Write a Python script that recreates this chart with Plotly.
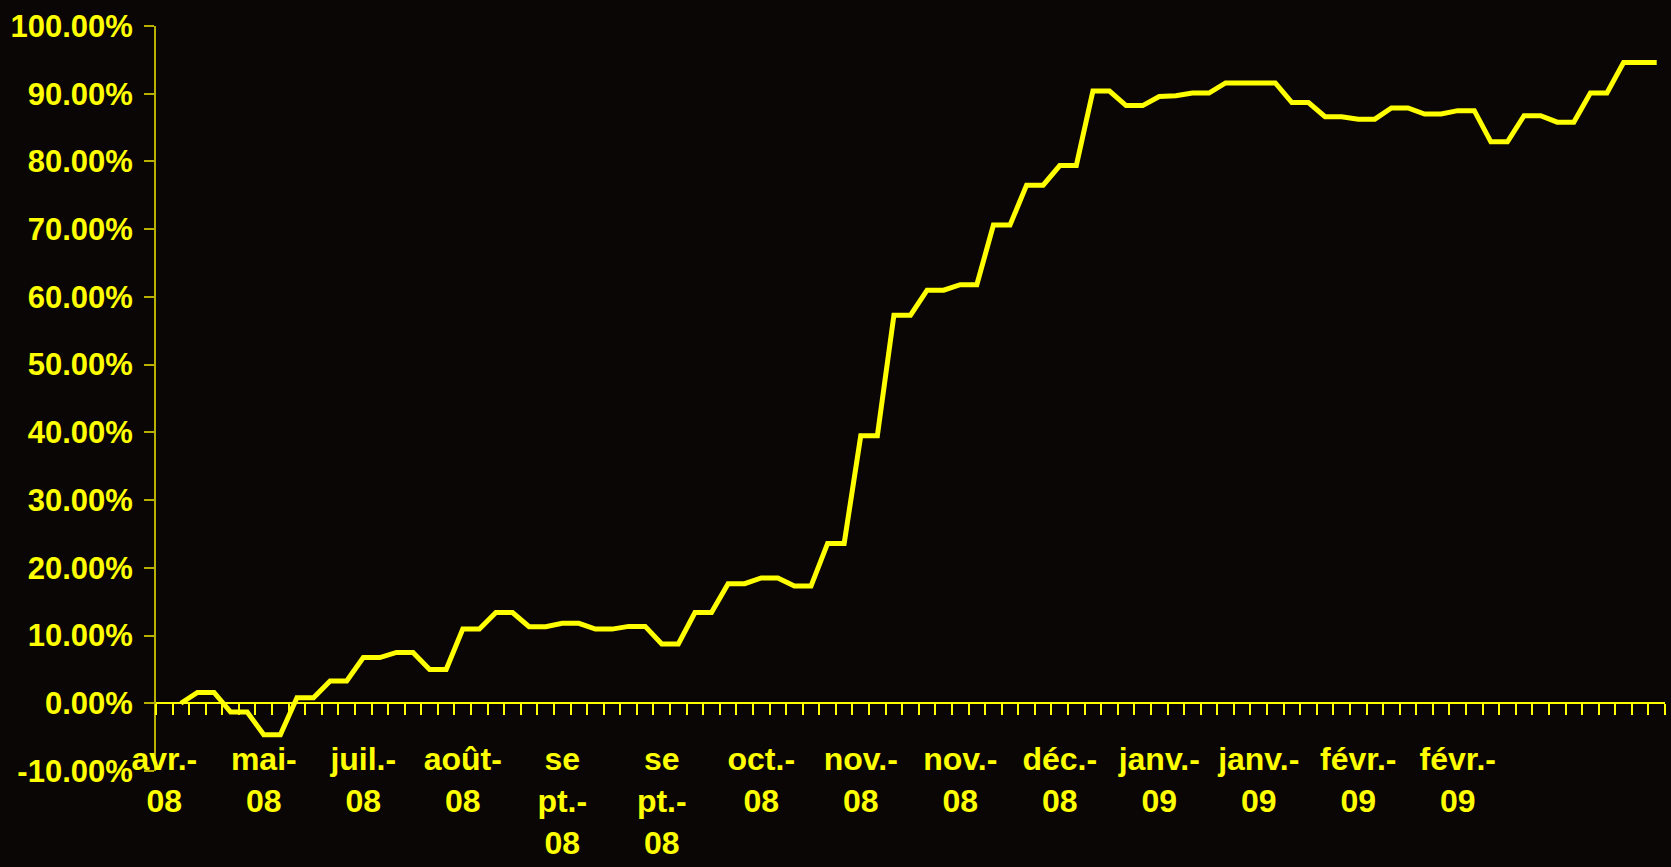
import plotly.graph_objects as go

# ---- data -------------------------------------------------------------
# cumulative performance (%) per category (index 0 is empty)
values_pct = [
    None, 0.0,
    1.6, 1.6, -1.3, -1.3, -4.65, -4.65, 0.8, 0.8, 3.3, 3.3,
    6.75, 6.75, 7.5, 7.5, 5.0, 5.0, 10.95, 10.95, 13.4, 13.4,
    11.3, 11.3, 11.8, 11.8, 10.95, 10.95, 11.35, 11.35, 8.75, 8.75,
    13.4, 13.4, 17.65, 17.65, 18.5, 18.5, 17.3, 17.3, 23.6, 23.6,
    39.5, 39.5, 57.3, 57.3, 61.0, 61.0, 61.8, 61.8, 70.6, 70.6,
    76.5, 76.5, 79.4, 79.4, 90.4, 90.4, 88.25, 88.25, 89.6, 89.7,
    90.1, 90.1, 91.6, 91.6, 91.6, 91.6, 88.7, 88.7, 86.6, 86.6,
    86.25, 86.25, 87.9, 87.9, 87.0, 87.0, 87.5, 87.5, 82.9, 82.9,
    86.75, 86.75, 85.8, 85.8, 90.1, 90.1, 94.6, 94.6, 94.6,
]
categories = list(range(len(values_pct)))

# x tick labels (every 6th category)
x_label_pos = [0, 6, 12, 18, 24, 30, 36, 42, 48, 54, 60, 66, 72, 78]
x_label_text = [
    "avr.-<br>08", "mai-<br>08", "juil.-<br>08", "août-<br>08",
    "se<br>pt.-<br>08", "se<br>pt.-<br>08", "oct.-<br>08", "nov.-<br>08",
    "nov.-<br>08", "déc.-<br>08", "janv.-<br>09", "janv.-<br>09",
    "févr.-<br>09", "févr.-<br>09",
]

# y ticks
y_tick_vals = [-10, 0, 10, 20, 30, 40, 50, 60, 70, 80, 90, 100]
y_tick_text = ["-10.00%", "0.00%", "10.00%", "20.00%", "30.00%", "40.00%",
               "50.00%", "60.00%", "70.00%", "80.00%", "90.00%", "100.00%"]

# ---- styling ----------------------------------------------------------
BG = "#0a0606"
YEL = "#ffff00"
AX = "#b8b000"
FONT = dict(family="Liberation Sans, Arial, sans-serif", size=31,
            color=YEL, weight="bold")
XFONT = dict(FONT, size=32)

n = len(categories)
y_min, y_max = -10, 100
zero_pos = (0 - y_min) / (y_max - y_min)

fig = go.Figure()
fig.add_trace(go.Scatter(
    x=categories, y=values_pct, mode="lines",
    line=dict(color=YEL, width=5), connectgaps=False,
    hoverinfo="skip", showlegend=False,
))

fig.update_layout(
    width=1671, height=867,
    paper_bgcolor=BG, plot_bgcolor=BG,
    margin=dict(l=156, r=6, t=26, b=92),
    font=FONT,
    showlegend=False,
    xaxis=dict(
        range=[-0.5, n - 0.5],
        anchor="free", position=zero_pos,
        showline=True, linecolor=YEL, linewidth=1.5,
        showgrid=False, zeroline=False,
        tickmode="array", tickvals=x_label_pos, ticktext=x_label_text,
        ticks="outside", ticklen=28, tickcolor="rgba(0,0,0,0)",
        tickangle=0, tickfont=XFONT,
        minor=dict(
            tickmode="array",
            tickvals=[i - 0.5 for i in range(n + 1)],
            ticks="outside", ticklen=11, tickcolor=YEL, tickwidth=1.5,
            showgrid=False,
        ),
    ),
    yaxis=dict(
        range=[y_min, y_max],
        showline=True, linecolor=AX, linewidth=2,
        showgrid=False, zeroline=False,
        tickmode="array", tickvals=y_tick_vals, ticktext=y_tick_text,
        ticks="outside", ticklen=10, tickcolor=AX, tickwidth=2,
        tickfont=FONT, ticklabelstandoff=5,
    ),
)

fig.write_html("out.html")
